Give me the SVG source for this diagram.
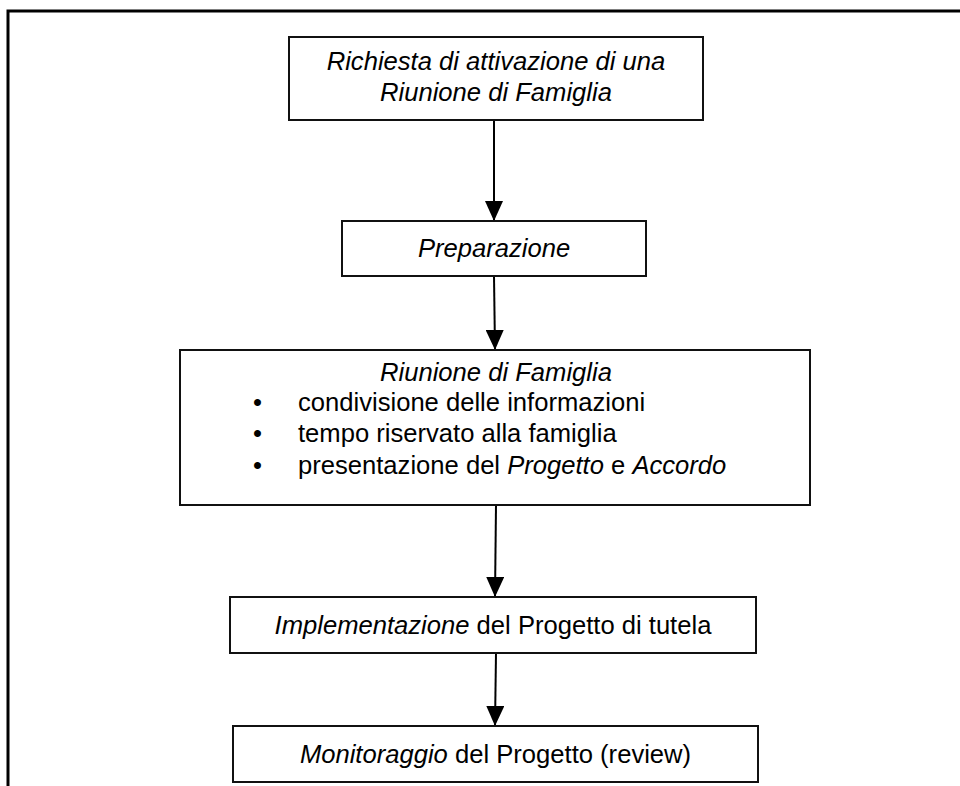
<svg xmlns="http://www.w3.org/2000/svg" width="960" height="786" viewBox="0 0 960 786">
<style>
.box{fill:#fff;stroke:#111;stroke-width:2}
.t{font-family:"Liberation Sans",Arial,sans-serif;font-size:25.6px;fill:#000}
.i{font-style:italic}
.c{text-anchor:middle}
.edge{stroke:#000;stroke-width:2;fill:none}
</style>
<defs>
<marker id="arr" viewBox="0 0 20 18" refX="20" refY="9" markerWidth="20" markerHeight="18" markerUnits="userSpaceOnUse" orient="auto">
<path d="M0,0 L20,9 L0,18 Z" fill="#000"/>
</marker>
</defs>
<rect width="960" height="786" fill="#fff"/>
<g id="frame">
<path d="M8,786 L8,11 L960,11" fill="none" stroke="#000" stroke-width="3"/>
</g>
<g id="connectors">
<line class="edge" x1="494" y1="120" x2="494" y2="221" marker-end="url(#arr)"/>
<line class="edge" x1="494" y1="276" x2="495" y2="350" marker-end="url(#arr)"/>
<line class="edge" x1="496" y1="505" x2="495" y2="597" marker-end="url(#arr)"/>
<line class="edge" x1="496" y1="653" x2="495" y2="726" marker-end="url(#arr)"/>
</g>
<g id="n1">
<rect class="box" x="289" y="37" width="414" height="83"/>
<text class="t i c" x="496" y="70">Richiesta di attivazione di una</text>
<text class="t i c" x="496" y="101">Riunione di Famiglia</text>
</g>
<g id="n2">
<rect class="box" x="342" y="221" width="304" height="55"/>
<text class="t i c" x="494" y="257">Preparazione</text>
</g>
<g id="n3">
<rect class="box" x="180" y="350" width="630" height="155"/>
<text class="t i c" x="496" y="381">Riunione di Famiglia</text>
<text class="t" x="253" y="411">•</text>
<text class="t" x="298" y="411">condivisione delle informazioni</text>
<text class="t" x="253" y="442">•</text>
<text class="t" x="298" y="442">tempo riservato alla famiglia</text>
<text class="t" x="253" y="474">•</text>
<text class="t" x="298" y="474">presentazione del <tspan class="i">Progetto</tspan> e <tspan class="i">Accordo</tspan></text>
</g>
<g id="n4">
<rect class="box" x="230" y="597" width="526" height="56"/>
<text class="t c" x="493" y="634"><tspan class="i">Implementazione</tspan> del Progetto di tutela</text>
</g>
<g id="n5">
<rect class="box" x="233" y="726" width="525" height="56"/>
<text class="t c" x="495.5" y="763"><tspan class="i">Monitoraggio</tspan> del Progetto (review)</text>
</g>
</svg>
